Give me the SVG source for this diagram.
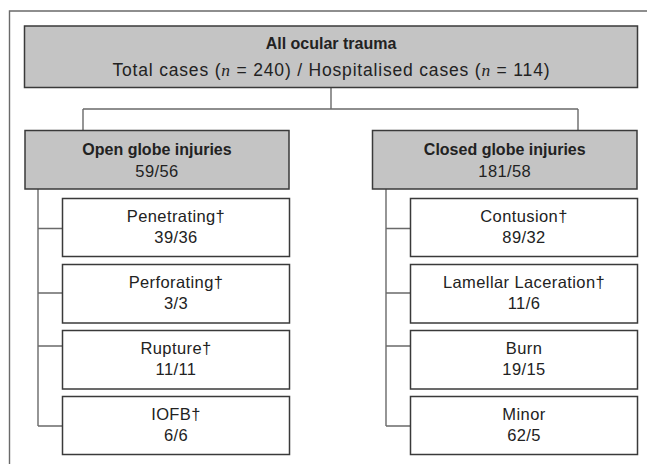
<svg xmlns="http://www.w3.org/2000/svg" width="647" height="464" viewBox="0 0 647 464">
<style>
text{font-family:"Liberation Sans",Arial,sans-serif;fill:#222;text-anchor:middle;font-size:16.5px;letter-spacing:0.4px}
.b{font-weight:bold;font-size:16px;letter-spacing:0}
.t{font-size:17.5px;letter-spacing:0}
.g{fill:#c4c4c4;stroke:#3a3a3a;stroke-width:1.5}
.w{fill:#fff;stroke:#3a3a3a;stroke-width:1.5}
.c{fill:none;stroke:#6a6a6a;stroke-width:1.4}
.i{font-style:italic;font-family:"Liberation Serif",serif}
</style>
<rect width="647" height="464" fill="#fff"/>
<path class="c" d="M9.5,470 V11 H650" stroke="#777"/>
<g id="connectors">
<path class="c" d="M331,87.5 V109 M83,109 H578 M83,109 V130.5 M578,109 V130.5"/>
<path class="c" d="M38,189 V426 M38,228.5 H62.5 M38,293 H62.5 M38,346 H62.5 M38,426 H62.5"/>
<path class="c" d="M386,189 V426 M386,228.5 H410.5 M386,293 H410.5 M386,346 H410.5 M386,426 H410.5"/>
</g>
<g id="all">
<rect class="g" x="24.5" y="26" width="613" height="61.5"/>
<text class="b" x="331" y="48.5">All ocular trauma</text>
<text class="t" x="331" y="75.5" textLength="437" lengthAdjust="spacing">Total cases (<tspan class="i">n</tspan> = 240) / Hospitalised cases (<tspan class="i">n</tspan> = 114)</text>
</g>
<g id="open">
<rect class="g" x="25" y="130.5" width="264" height="58.5"/>
<text class="b" x="157" y="155">Open globe injuries</text>
<text x="157" y="176.5">59/56</text>
</g>
<g id="closed">
<rect class="g" x="372.5" y="130.5" width="264.5" height="58.5"/>
<text class="b" x="504.75" y="155">Closed globe injuries</text>
<text x="504.75" y="176.5">181/58</text>
</g>
<g id="penetrating">
<rect class="w" x="62.5" y="198.5" width="227" height="58"/>
<text x="176" y="221.5">Penetrating†</text>
<text x="176" y="243">39/36</text>
</g>
<g id="perforating">
<rect class="w" x="62.5" y="264.5" width="227" height="58.5"/>
<text x="176" y="287.5">Perforating†</text>
<text x="176" y="309">3/3</text>
</g>
<g id="rupture">
<rect class="w" x="62.5" y="330.5" width="227" height="58.5"/>
<text x="176" y="353.5">Rupture†</text>
<text x="176" y="375">11/11</text>
</g>
<g id="iofb">
<rect class="w" x="62.5" y="396.5" width="227" height="58"/>
<text x="176" y="419.5">IOFB†</text>
<text x="176" y="441">6/6</text>
</g>
<g id="contusion">
<rect class="w" x="410.5" y="198.5" width="227" height="58"/>
<text x="524" y="221.5">Contusion†</text>
<text x="524" y="243">89/32</text>
</g>
<g id="lamellar">
<rect class="w" x="410.5" y="264.5" width="227" height="58.5"/>
<text x="524" y="287.5">Lamellar Laceration†</text>
<text x="524" y="309">11/6</text>
</g>
<g id="burn">
<rect class="w" x="410.5" y="330.5" width="227" height="58.5"/>
<text x="524" y="353.5">Burn</text>
<text x="524" y="375">19/15</text>
</g>
<g id="minor">
<rect class="w" x="410.5" y="396.5" width="227" height="58"/>
<text x="524" y="419.5">Minor</text>
<text x="524" y="441">62/5</text>
</g>
</svg>
